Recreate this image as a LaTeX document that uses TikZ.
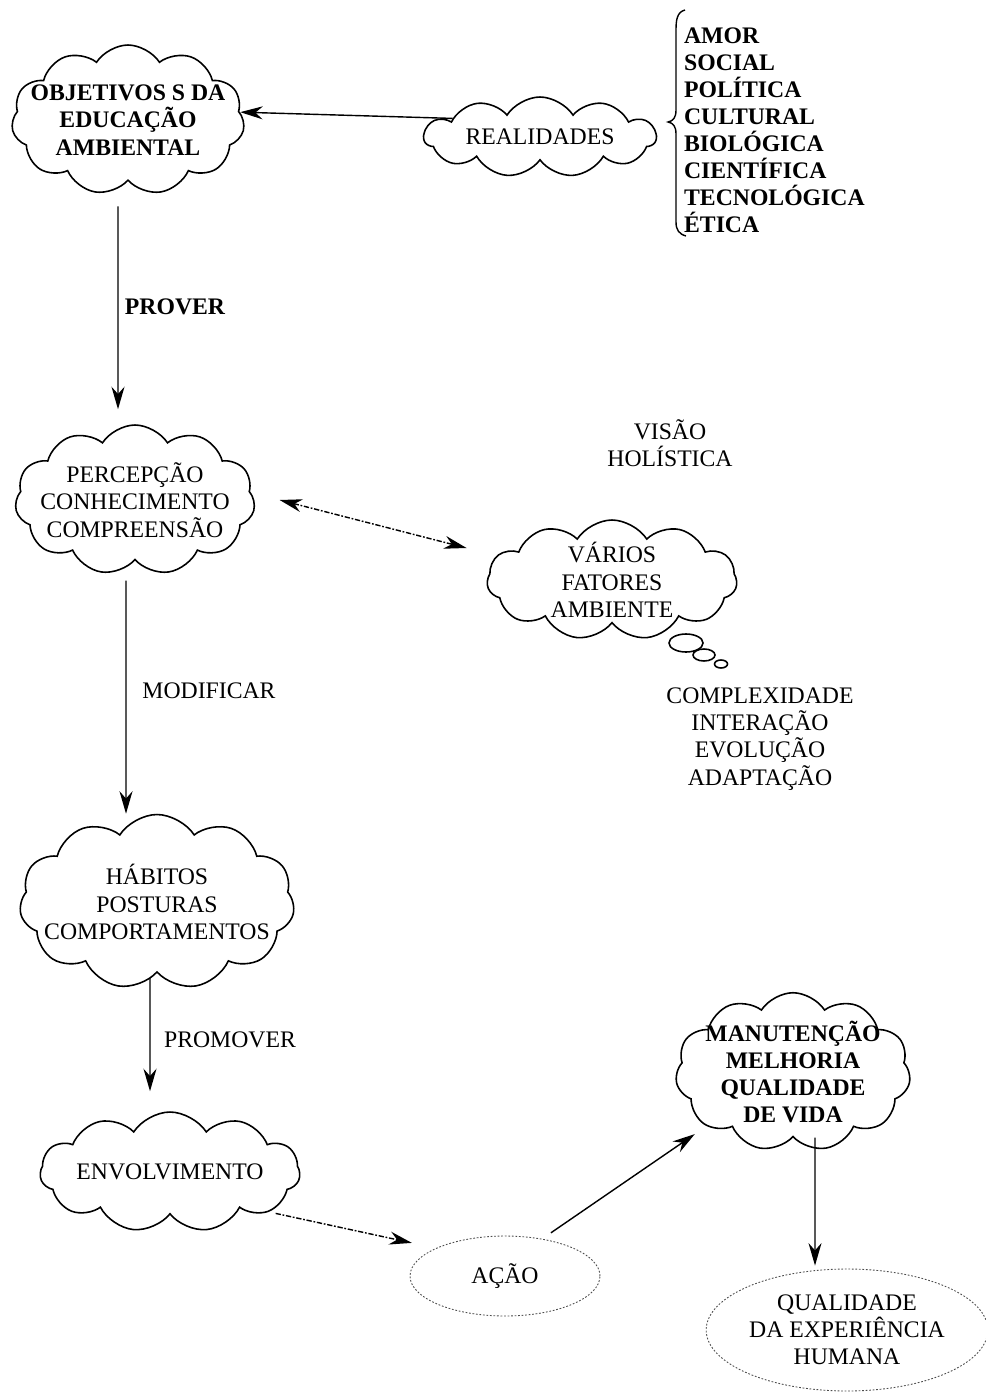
\documentclass[tikz,border=0pt]{standalone}
\usepackage{fontspec}
\setmainfont{Liberation Serif}
\usetikzlibrary{shapes.symbols,shapes.geometric,arrows.meta}

\begin{document}
\begin{tikzpicture}[x=0.02cm,y=-0.02cm,>={Stealth[length=0.45cm,width=0.26cm]},
every node/.style={font=\fontsize{13.5}{15.5}\selectfont, align=center, inner sep=1pt},
bold/.style={font=\fontsize{13.5}{15.5}\selectfont\bfseries},
nuvem/.style={cloud, draw, line width=0.9pt, cloud puffs=11, cloud puff arc=115, cloud ignores aspect, inner xsep=-12pt, inner ysep=-2pt},
bolha/.style={ellipse, draw, line width=0.9pt, inner sep=0pt},
oval/.style={ellipse, draw=black!70, dash pattern=on 1pt off 1pt, line width=0.5pt},
arr/.style={->,line width=0.8pt},
arrdash/.style={arr, dash pattern=on 3pt off 1pt on 1pt off 1pt}]
\useasboundingbox (0,0) rectangle (985,1392);
% objetivos e realidades
\node[nuvem, bold, minimum width=4.66cm, minimum height=3cm] (obj) at (128,120) {OBJETIVOS S DA\\EDUCAÇÃO\\AMBIENTAL};
\node[nuvem, minimum width=4.64cm, minimum height=1.6cm] (real) at (540,137) {REALIDADES};
\draw[line width=0.8pt] (685,10) .. controls (677,12) and (676,20) .. (676,30) -- (676,110) .. controls (676,118) and (673,121) .. (668,122) .. controls (673,123) and (676,126) .. (676,134) -- (676,222) .. controls (676,230) and (679,234) .. (686,236);
\foreach \w [count=\i] in {AMOR,SOCIAL,POLÍTICA,CULTURAL,BIOLÓGICA,CIENTÍFICA,TECNOLÓGICA,ÉTICA}
  \node[bold, anchor=base west] (tipo\i) at (682,{44+27*(\i-1)}) {\w};
\draw[arr] (real.168) -- (obj.4);
% percepcao
\node[bold] (prover) at (175,307) {PROVER};
\node[nuvem, minimum width=4.8cm, minimum height=3cm] (pc) at (135,500) {PERCEPÇÃO\\CONHECIMENTO\\COMPREENSÃO};
\draw[arr] ([shift={(-10,25)}]obj.south) -- ([shift={(-17,-15)}]pc.north);
% visao holistica
\node (visao) at (670,443) {VISÃO\\HOLÍSTICA};
\node[nuvem, minimum width=5cm, minimum height=2.4cm] (fat) at (612,580) {VÁRIOS\\FATORES\\AMBIENTE};
\node[bolha, minimum width=0.68cm, minimum height=0.36cm] (b1) at (686,643) {};
\node[bolha, minimum width=0.44cm, minimum height=0.24cm] (b2) at (704,655) {};
\node[bolha, minimum width=0.26cm, minimum height=0.16cm] (b3) at (721,664) {};
\node (cplx) at (760,739) {COMPLEXIDADE\\INTERAÇÃO\\EVOLUÇÃO\\ADAPTAÇÃO};
\draw[arrdash,<->] ([xshift=0.5cm]pc.east) -- ([shift={(-20,-32)}]fat.west);
% habitos
\node (modif) at (209,691) {MODIFICAR};
\node[nuvem, minimum width=5.5cm, minimum height=3.5cm] (hab) at (157,902) {HÁBITOS\\POSTURAS\\COMPORTAMENTOS};
\draw[arr] ([shift={(-9,20)}]pc.south) -- ([shift={(-31,0)}]hab.north);
\node (promo) at (230,1040) {PROMOVER};
\node[nuvem, minimum width=5.2cm, minimum height=2.4cm] (env) at (170,1172) {ENVOLVIMENTO};
\draw[arr] ([shift={(-7,5)}]hab.south) -- ([shift={(-20,-20)}]env.north);
% acao e qualidade
\node[oval, minimum width=3.8cm, minimum height=1.6cm] (acao) at (505,1276) {AÇÃO};
\node[nuvem, bold, minimum width=4.7cm, minimum height=3.1cm] (man) at (793,1072) {MANUTENÇÃO\\MELHORIA\\QUALIDADE\\DE VIDA};
\node[oval, minimum width=5.5cm, minimum height=2.44cm] (qual) at (847,1330) {QUALIDADE\\DA EXPERIÊNCIA\\HUMANA};
\draw[arrdash, shorten <=4pt, shorten >=14pt] (env.-22) -- (acao.158);
\draw[arr, shorten <=6pt, shorten >=8pt] (acao.45) -- (man.212);
\draw[arr] ([shift={(22,0)}]man.south) -- ([shift={(-32,-3)}]qual.north);
\end{tikzpicture}
\end{document}
